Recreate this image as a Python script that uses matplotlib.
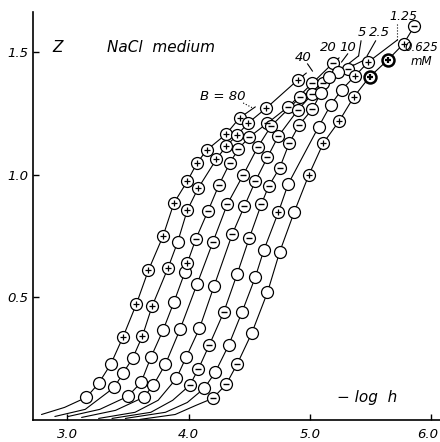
import matplotlib
matplotlib.use("Agg")
import matplotlib.pyplot as plt
from matplotlib.transforms import ScaledTranslation

plt.rcParams['font.family'] = ['DejaVu Sans']

# ---- data (x = -log h, y = Z) ----
# marker kinds: o = empty circle, p = circle with plus, m = circle with minus, P = bold plus
b80_x = [3.16, 3.26, 3.36, 3.46, 3.57, 3.67, 3.79, 3.88, 3.99, 4.07, 4.15, 4.31, 4.42]
b80_y = [0.092, 0.149, 0.227, 0.337, 0.471, 0.610, 0.749, 0.884, 0.973, 1.047, 1.100, 1.165, 1.231]
b80_k = ['o', 'o', 'o', 'p', 'p', 'p', 'p', 'p', 'p', 'p', 'p', 'p', 'p']

b40_x = [3.39, 3.46, 3.54, 3.62, 3.70, 3.83, 3.91, 3.99, 4.08, 4.23, 4.31, 4.40, 4.49, 4.64, 4.90]
b40_y = [0.133, 0.190, 0.251, 0.341, 0.463, 0.618, 0.724, 0.855, 0.945, 1.063, 1.116, 1.161, 1.210, 1.271, 1.386]
b40_k = ['o', 'o', 'o', 'p', 'p', 'p', 'o', 'p', 'p', 'p', 'p', 'p', 'p', 'p', 'p']

b20_x = [3.50, 3.61, 3.69, 3.79, 3.88, 3.97, 3.99, 4.06, 4.16, 4.25, 4.34, 4.41, 4.50, 4.65, 4.82, 5.02, 5.19]
b20_y = [0.096, 0.153, 0.255, 0.365, 0.480, 0.602, 0.639, 0.737, 0.851, 0.957, 1.047, 1.104, 1.153, 1.210, 1.276, 1.373, 1.455]
b20_k = ['o', 'o', 'o', 'o', 'o', 'o', 'p', 'm', 'm', 'm', 'm', 'm', 'm', 'm', 'm', 'm', 'm']

b10_x = [3.63, 3.71, 3.81, 3.93, 4.07, 4.20, 4.32, 4.45, 4.57, 4.68, 4.92, 5.11, 5.31]
b10_y = [0.092, 0.141, 0.227, 0.369, 0.553, 0.724, 0.880, 0.998, 1.112, 1.198, 1.316, 1.373, 1.431]
b10_k = ['o', 'o', 'o', 'o', 'o', 'm', 'm', 'm', 'm', 'm', 'm', 'm', 'm']

b5_x = [3.90, 3.98, 4.09, 4.21, 4.36, 4.46, 4.55, 4.65, 4.74, 4.90, 5.02, 5.23]
b5_y = [0.169, 0.255, 0.373, 0.545, 0.757, 0.871, 0.973, 1.071, 1.157, 1.263, 1.329, 1.418]
b5_k = ['o', 'o', 'o', 'o', 'm', 'm', 'm', 'm', 'm', 'm', 'm', 'o']

b25_x = [4.01, 4.08, 4.17, 4.29, 4.40, 4.50, 4.60, 4.66, 4.75, 4.83, 4.91, 5.02, 5.09, 5.16]
b25_y = [0.141, 0.206, 0.304, 0.439, 0.594, 0.741, 0.880, 0.953, 1.027, 1.129, 1.202, 1.267, 1.333, 1.398]
b25_k = ['m', 'm', 'm', 'm', 'o', 'm', 'm', 'm', 'm', 'm', 'm', 'm', 'o', 'o']

b125_x = [4.13, 4.22, 4.33, 4.44, 4.55, 4.62, 4.74, 4.82, 5.07, 5.17, 5.26, 5.37, 5.48]
b125_y = [0.129, 0.194, 0.304, 0.439, 0.582, 0.692, 0.847, 0.961, 1.194, 1.284, 1.345, 1.402, 1.459]
b125_k = ['o', 'o', 'o', 'o', 'o', 'o', 'p', 'o', 'o', 'o', 'o', 'p', 'p']

b0625_x = [4.20, 4.31, 4.40, 4.52, 4.65, 4.75, 4.87, 4.99, 5.11, 5.24, 5.36, 5.49, 5.64, 5.77, 5.86]
b0625_y = [0.088, 0.145, 0.227, 0.353, 0.520, 0.684, 0.847, 0.998, 1.129, 1.218, 1.316, 1.398, 1.467, 1.533, 1.606]
b0625_k = ['m', 'm', 'm', 'o', 'o', 'o', 'o', 'p', 'p', 'p', 'p', 'P', 'P', 'p', 'm']

# low-Z tails and upper ends of the drawn curves
tail_x = {'80': [2.79, 2.98], '40': [2.90, 3.15], '20': [3.01, 3.27], '10': [3.12, 3.40],
          '5': [3.26, 3.56, 3.75], '2.5': [3.37, 3.69, 3.87], '1.25': [3.48, 3.81, 3.99],
          '0.625': [3.60, 3.89, 4.06]}
tail_y = {'80': [0.022, 0.051], '40': [0.014, 0.043], '20': [0.014, 0.043], '10': [0.010, 0.039],
          '5': [0.006, 0.031, 0.080], '2.5': [0.006, 0.031, 0.080], '1.25': [0.006, 0.031, 0.071],
          '0.625': [0.002, 0.022, 0.059]}
end_x = {'80': [4.55], '40': [4.97], '20': [5.24], '10': [5.36], '5': [5.40], '2.5': [5.46],
         '1.25': [5.72], '0.625': []}
end_y = {'80': [1.276], '40': [1.414], '20': [1.476], '10': [1.447], '5': [1.484], '2.5': [1.470],
         '1.25': [1.549], '0.625': []}

series = {
    '80': (b80_x, b80_y, b80_k), '40': (b40_x, b40_y, b40_k), '20': (b20_x, b20_y, b20_k),
    '10': (b10_x, b10_y, b10_k), '5': (b5_x, b5_y, b5_k), '2.5': (b25_x, b25_y, b25_k),
    '1.25': (b125_x, b125_y, b125_k), '0.625': (b0625_x, b0625_y, b0625_k),
}

x_ticks = [3.0, 4.0, 5.0, 6.0]
x_ticklabels = ['3.0', '4.0', '5.0', '6.0']
y_ticks = [0.5, 1.0, 1.5]
y_ticklabels = ['0.5', '1.0', '1.5']

# ---- figure ----
fig = plt.figure(figsize=(4.4, 4.42), dpi=100)
ax = fig.add_axes([0.075, 0.05, 0.925, 0.923])
ax.set_xlim(2.72, 6.07)
ax.set_ylim(0, 1.663)

for key, (xs, ys, ks) in series.items():
    lx = tail_x[key] + xs + end_x[key]
    ly = tail_y[key] + ys + end_y[key]
    ax.plot(lx, ly, color='black', lw=0.8, zorder=2, solid_capstyle='round')
    for x, y, k in zip(xs, ys, ks):
        bold = (k == 'P')
        ax.plot([x], [y], marker='o', ms=8.6, mfc='white', mec='black',
                mew=1.8 if bold else 0.9, zorder=3, ls='none')
        if k in ('p', 'P'):
            ax.plot([x], [y], marker='+', ms=5, mec='black', mew=1.6 if bold else 0.9,
                    zorder=4, ls='none')
        elif k == 'm':
            ax.plot([x], [y], marker='_', ms=5, mec='black', mew=1.0, zorder=4, ls='none')

for s in ['top', 'right']:
    ax.spines[s].set_visible(False)
for s in ['left', 'bottom']:
    ax.spines[s].set_linewidth(1.2)

ax.set_xticks(x_ticks)
ax.set_xticklabels(x_ticklabels, fontstyle='italic', fontsize=9.5)
ax.set_yticks(y_ticks)
ax.set_yticklabels(y_ticklabels, fontstyle='italic', fontsize=9.5)
ax.tick_params(axis='x', direction='in', length=4, width=1, pad=6)
ax.tick_params(axis='y', direction='in', length=4, width=1, pad=3)
# keep the last x tick label inside the canvas
last = ax.get_xticklabels()[-1]
last.set_transform(last.get_transform() + ScaledTranslation(-4 / 100, 0, fig.dpi_scale_trans))

it = dict(fontstyle='italic', color='black')
ax.text(2.92, 1.52, 'Z', fontsize=11, ha='center', va='center', **it)
ax.text(3.33, 1.52, 'NaCl  medium', fontsize=11, ha='left', va='center', **it)
ax.text(5.22, 0.093, '− log  h', fontsize=11, ha='left', va='center', **it)

ax.text(4.28, 1.320, 'B = 80', fontsize=9.5, ha='center', va='center', **it)
ax.plot([4.45, 4.53], [1.292, 1.271], color='black', lw=0.8, ls=':')
ax.text(4.94, 1.476, '40', fontsize=9.5, ha='center', va='center', **it)
ax.plot([4.98, 5.02], [1.451, 1.422], color='black', lw=0.8)
ax.text(5.15, 1.520, '20', fontsize=9.5, ha='center', va='center', **it)
ax.text(5.31, 1.520, '10', fontsize=9.5, ha='center', va='center', **it)
ax.plot([5.31, 5.26], [1.492, 1.459], color='black', lw=0.8)
ax.text(5.43, 1.578, '5', fontsize=9.5, ha='center', va='center', **it)
ax.plot([5.42, 5.40], [1.545, 1.484], color='black', lw=0.8)
ax.text(5.57, 1.578, '2.5', fontsize=9.5, ha='center', va='center', **it)
ax.plot([5.54, 5.47], [1.545, 1.484], color='black', lw=0.8)
ax.text(5.77, 1.643, '1.25', fontsize=9, ha='center', va='center', **it)
ax.plot([5.72, 5.72], [1.614, 1.549], color='black', lw=0.8, ls=':')
ax.text(5.92, 1.520, '0.625', fontsize=8.5, ha='center', va='center', **it)
ax.text(5.92, 1.459, 'mM', fontsize=8.5, ha='center', va='center', **it)

fig.savefig('out.png', dpi=100)
